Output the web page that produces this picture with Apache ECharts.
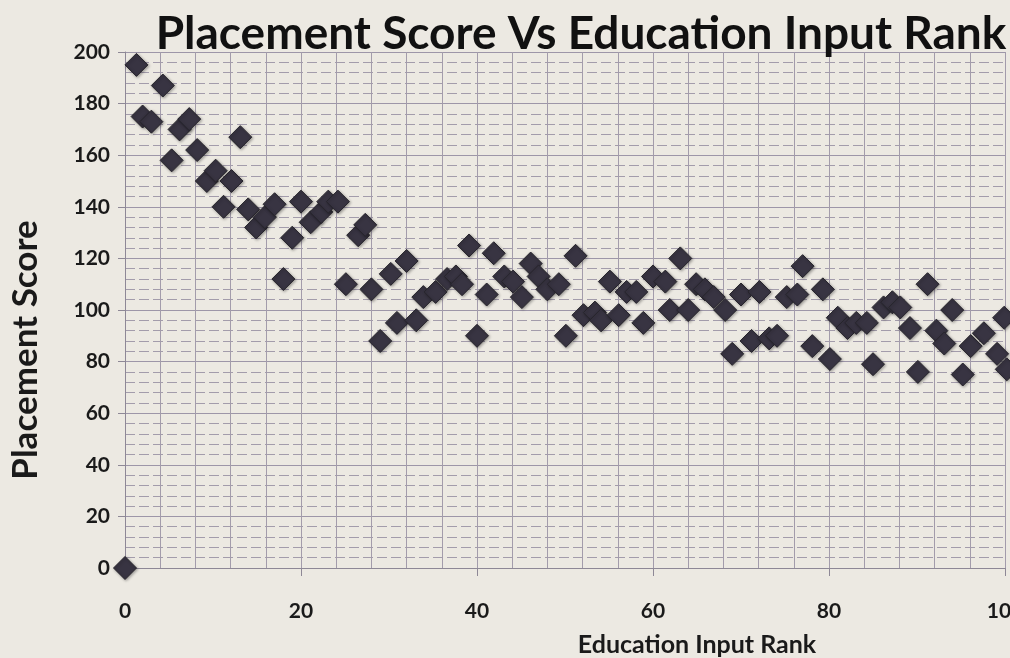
<!DOCTYPE html>
<html>
<head>
<meta charset="utf-8">
<script src="https://cdn.jsdelivr.net/npm/echarts@6/dist/echarts.min.js"></script>
<style>
html,body{margin:0;padding:0;background:#ece9e2;}
#chart{width:1010px;height:658px;}
</style>
</head>
<body>
<div id="chart"></div>
<script>
// Education Input Rank (x)
const ranks = [0,1.3,2,3,4.3,5.3,6.2,7.3,8.2,9.3,10.3,11.2,12.1,13.1,14,14.9,15.9,17,18,19,
  20,21.1,22.3,23.1,24.2,25.1,26.5,27.3,28,29,30.2,30.9,32,33.1,33.9,35.3,36.6,37.6,38.3,39.1,
  40,41.1,41.9,43.1,44.1,45.1,46.1,47,48,49.3,50.1,51.2,52.1,53.4,54.1,55.1,56.1,57,58.1,58.9,
  60,61.4,61.9,63.1,64,64.9,65.9,66.9,68.2,69,70,71.2,72.1,73.2,74.1,75.2,76.4,77,78.1,79.3,
  80.1,81,82.1,83.1,84.3,85,86.2,87.2,88.1,89.2,90.1,91.2,92.2,93.1,94,95.2,96.1,97.6,99.1,99.9,100.2];
// Placement Score (y)
const scores = [0,195,175,173,187,158,170,174,162,150,154,140,150,167,139,132,136,141,112,128,
  142,134,138,142,142,110,129,133,108,88,114,95,119,96,105,107,112,113,110,125,
  90,106,122,113,111,105,118,113,108,110,90,121,98,99,96,111,98,107,107,95,
  113,111,100,120,100,110,108,105,100,83,106,88,107,89,90,105,106,117,86,108,
  81,97,93,95,95,79,101,103,101,93,76,110,92,87,100,75,86,91,83,97,77];
const xTicks = [0,20,40,60,80,100];
const yTicks = [0,20,40,60,80,100,120,140,160,180,200];

const points = ranks.map((r,i)=>[r, scores[i]]);
const chart = echarts.init(document.getElementById('chart'));
const gridColor = '#a39cab';
chart.setOption({
  backgroundColor: '#ece9e2',
  animation: false,
  title: {
    text: 'Placement Score Vs Education Input Rank',
    left: 576, top: 6, textAlign: 'center',
    textStyle: {fontFamily: 'Lato', fontWeight: 'bold', fontSize: 46, color: '#111'}
  },
  grid: {left: 125, top: 52, width: 880, height: 516, containLabel: false, outerBoundsMode: 'none'},
  xAxis: {
    type: 'value', min: xTicks[0], max: xTicks[xTicks.length-1], interval: 20,
    name: 'Education Input Rank', nameLocation: 'middle', nameGap: 64,
    nameTextStyle: {fontFamily: 'Lato', fontWeight: 'bold', fontSize: 25, color: '#1a1a1a', padding: [0,0,0,264]},
    axisLine: {show: true, lineStyle: {color: '#8e8896', width: 1}},
    axisTick: {show: true, inside: false, length: 8, lineStyle: {color: '#8e8896'}},
    axisLabel: {margin: 33, fontFamily: 'Lato', fontWeight: 'bold', fontSize: 21, color: '#1a1a1a',
      formatter: v => xTicks.includes(v) ? String(v) : ''},
    splitLine: {show: true, lineStyle: {color: gridColor, width: 1}},
    minorTick: {show: false, splitNumber: 5},
    minorSplitLine: {show: true, lineStyle: {color: gridColor, width: 1}}
  },
  yAxis: {
    type: 'value', min: yTicks[0], max: yTicks[yTicks.length-1], interval: 20,
    name: 'Placement Score', nameLocation: 'middle', nameGap: 82, nameRotate: 90,
    nameTextStyle: {fontFamily: 'Lato', fontWeight: 'bold', fontSize: 35, color: '#1a1a1a', padding: [0,80,0,0]},
    axisLine: {show: true, lineStyle: {color: '#8e8896', width: 1}},
    axisTick: {show: true, inside: false, length: 7, lineStyle: {color: '#8e8896'}},
    axisLabel: {margin: 15, fontFamily: 'Lato', fontWeight: 'bold', fontSize: 21, color: '#1a1a1a',
      formatter: v => yTicks.includes(v) ? String(v) : ''},
    splitLine: {show: true, lineStyle: {color: '#9d96a8', width: 1}},
    minorTick: {show: false, splitNumber: 5},
    minorSplitLine: {show: true, lineStyle: {color: gridColor, width: 1, type: [10, 4]}}
  },
  series: [{
    type: 'scatter',
    data: points,
    symbol: 'diamond',
    symbolSize: 23,
    clip: false,
    itemStyle: {color: '#383442', opacity: 1, borderColor: '#27252c', borderWidth: 1,
      shadowBlur: 3, shadowColor: 'rgba(0,0,0,0.35)', shadowOffsetX: 1, shadowOffsetY: 1}
  }]
});
</script>
</body>
</html>
